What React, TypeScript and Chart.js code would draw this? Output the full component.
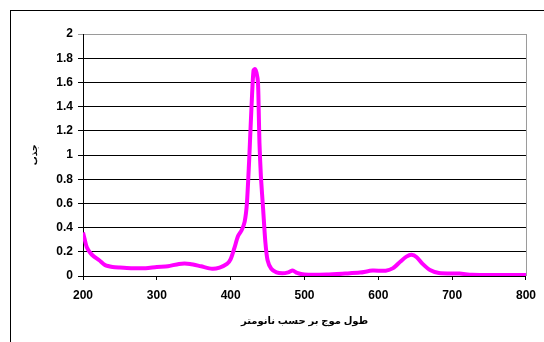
import React, { useEffect, useRef } from "react";
import { Chart, registerables } from "chart.js";

Chart.register(...registerables);

const wavelengths = [
  200, 202, 205, 210, 215, 222, 230, 240, 250, 265, 285, 300, 315, 330, 345, 360, 375, 385, 395,
  400, 405, 410, 415, 419, 422, 425, 427, 429, 431, 433, 435, 437, 438, 439, 441, 444, 447, 450,
  455, 462, 470, 478, 484, 490, 500, 530, 555, 575, 592, 610, 620, 630, 638, 645, 652, 660, 670,
  682, 710, 727, 760, 800,
];
const absorbance = [
  0.36, 0.31, 0.24, 0.19, 0.16, 0.13, 0.09, 0.075, 0.07, 0.065, 0.065, 0.075, 0.08, 0.1, 0.1, 0.08,
  0.06, 0.07, 0.1, 0.14, 0.23, 0.33, 0.38, 0.45, 0.6, 0.95, 1.23, 1.5, 1.7, 1.71, 1.68, 1.6, 1.37,
  1.1, 0.82, 0.55, 0.28, 0.13, 0.06, 0.03, 0.022, 0.03, 0.045, 0.025, 0.012, 0.012, 0.02, 0.028,
  0.045, 0.044, 0.065, 0.12, 0.16, 0.175, 0.155, 0.1, 0.05, 0.025, 0.02, 0.01, 0.008, 0.008,
];
const xTitle = "طول موج بر حسب نانومتر";
const yTitle = "جذب";

const FONT = "Arial, 'Liberation Sans', 'DejaVu Sans', sans-serif";

const frameRight = {
  id: "frameRight",
  afterDraw(chart: any) {
    const { ctx, chartArea } = chart;
    ctx.save();
    ctx.strokeStyle = "#9a9a9a";
    ctx.lineWidth = 1;
    ctx.beginPath();
    ctx.moveTo(chartArea.right + 0.5, chartArea.top);
    ctx.lineTo(chartArea.right + 0.5, chartArea.bottom);
    ctx.stroke();
    ctx.restore();
  },
};

export default function App() {
  const ref = useRef<HTMLCanvasElement | null>(null);
  useEffect(() => {
    if (!ref.current) return;
    const chart = new Chart(ref.current, {
      type: "scatter",
      data: {
        datasets: [
          {
            data: wavelengths.map((x, i) => ({ x, y: absorbance[i] })),
            showLine: true,
            borderColor: "#ff00ff",
            backgroundColor: "#ff00ff",
            borderWidth: 4,
            pointRadius: 0,
            tension: 0.25,
          },
        ],
      },
      options: {
        animation: false,
        responsive: false,
        maintainAspectRatio: false,
        layout: { padding: { left: 0, top: 34, right: 17, bottom: 0 } },
        plugins: { legend: { display: false }, tooltip: { enabled: false } },
        scales: {
          x: {
            type: "linear",
            min: 200,
            max: 800,
            afterFit: (s: any) => {
              s.height = 66;
            },
            ticks: {
              stepSize: 100,
              color: "#000",
              padding: 8,
              maxRotation: 0,
              font: { family: FONT, size: 12, weight: "bold" },
            },
            grid: { drawOnChartArea: false, drawTicks: true, tickLength: 4, color: "#000" },
            border: { color: "#000", width: 1 },
            title: {
              display: true,
              text: xTitle,
              color: "#000",
              font: { family: FONT, size: 10, weight: "bold" },
              padding: { top: 0, bottom: 15 },
            },
          },
          y: {
            min: 0,
            max: 2,
            afterFit: (s: any) => {
              s.width = 83;
            },
            ticks: {
              stepSize: 0.2,
              color: "#000",
              padding: 5,
              font: { family: FONT, size: 12, weight: "bold" },
              callback: (v: any) => String(Number(Number(v).toFixed(1))),
            },
            grid: {
              color: (c: any) => (c.tick && c.tick.value === 2 ? "#9a9a9a" : "#000"),
              tickLength: 5,
              lineWidth: 1,
            },
            border: { color: "#000", width: 1 },
            title: {
              display: true,
              text: yTitle,
              color: "#000",
              font: { family: FONT, size: 9, weight: "bold" },
              padding: { top: 29, bottom: 0 },
            },
          },
        },
      },
      plugins: [frameRight],
    });
    return () => chart.destroy();
  }, []);

  return (
    <div
      style={{
        position: "fixed",
        left: 0,
        top: 0,
        width: 544,
        height: 342,
        overflow: "hidden",
        background: "#fff",
      }}
    >
      <div
        style={{
          position: "absolute",
          left: 10,
          top: 10,
          width: 700,
          height: 500,
          borderLeft: "1px solid #000",
          borderTop: "1px solid #000",
        }}
      />
      <canvas ref={ref} width={544} height={342} style={{ position: "absolute", left: 0, top: 0 }} />
    </div>
  );
}
